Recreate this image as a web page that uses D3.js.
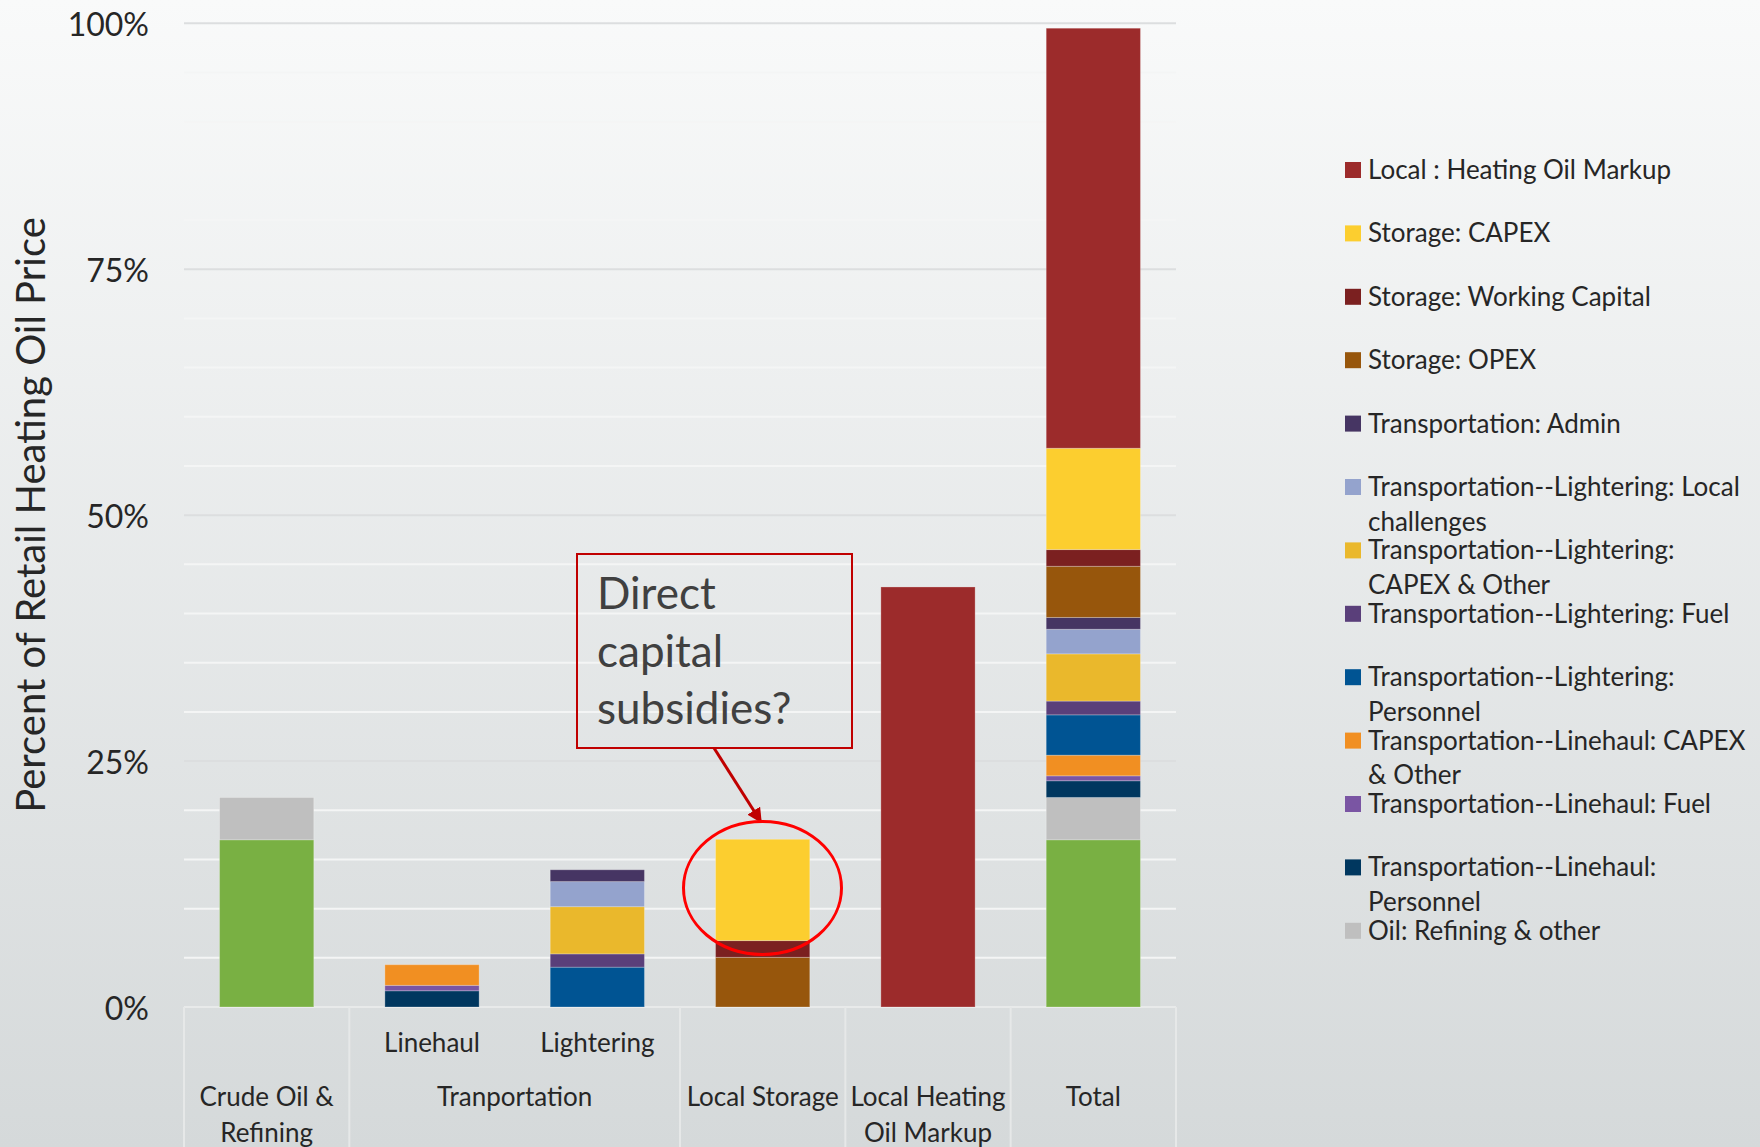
<!DOCTYPE html>
<meta charset="utf-8">
<style>

body {
  margin: 0;
  width: 1760px;
  height: 1147px;
  overflow: hidden;
  font-family: Lato, "Open Sans", sans-serif;
}

text {
  fill: #262626;
}

</style>
<body>
<script src="https://cdn.jsdelivr.net/npm/d3@7"></script>
<script>

var w = 1760,
    h = 1147;

// categories, bottom level of the axis
var categories = ["Crude Oil & Refining", "Linehaul", "Lightering", "Local Storage", "Local Heating Oil Markup", "Total"];
var subLabels = ["", "Linehaul", "Lightering", "", "", ""];
var groupLabels = ["Crude Oil & Refining", "Tranportation", "Local Storage", "Local Heating Oil Markup", "Total"];
var groupSpans = [1, 2, 1, 1, 1];

var yTicks = [0, 25, 50, 75, 100];

// series, stacked bottom to top; values in % of retail price, one per category
var seriesNames = [
  "Oil: Crude",
  "Oil: Refining & other",
  "Transportation--Linehaul: Personnel",
  "Transportation--Linehaul: Fuel",
  "Transportation--Linehaul: CAPEX & Other",
  "Transportation--Lightering: Personnel",
  "Transportation--Lightering: Fuel",
  "Transportation--Lightering: CAPEX & Other",
  "Transportation--Lightering: Local challenges",
  "Transportation: Admin",
  "Storage: OPEX",
  "Storage: Working Capital",
  "Storage: CAPEX",
  "Local : Heating Oil Markup"
];

var crude           = [17.0, 0, 0, 0, 0, 17.0];
var refining        = [4.3, 0, 0, 0, 0, 4.3];
var lhPersonnel     = [0, 1.65, 0, 0, 0, 1.7];
var lhFuel          = [0, 0.55, 0, 0, 0, 0.5];
var lhCapex         = [0, 2.1, 0, 0, 0, 2.1];
var ltPersonnel     = [0, 0, 4.05, 0, 0, 4.1];
var ltFuel          = [0, 0, 1.35, 0, 0, 1.4];
var ltCapex         = [0, 0, 4.8, 0, 0, 4.8];
var ltLocal         = [0, 0, 2.55, 0, 0, 2.5];
var admin           = [0, 0, 1.2, 0, 0, 1.2];
var storageOpex     = [0, 0, 0, 5.05, 0, 5.2];
var storageWC       = [0, 0, 0, 1.7, 0, 1.7];
var storageCapex    = [0, 0, 0, 10.3, 0, 10.3];
var markup          = [0, 0, 0, 0, 42.7, 42.7];

var seriesValues = [crude, refining, lhPersonnel, lhFuel, lhCapex, ltPersonnel, ltFuel, ltCapex, ltLocal, admin, storageOpex, storageWC, storageCapex, markup];

var colors = ["#79b043", "#bfbfbf", "#00375f", "#7a55a3", "#f18f22", "#005493", "#5a3f7a", "#eab82c", "#94a3cd", "#463563", "#97560c", "#7b2020", "#fcce2f", "#9c2b2b"];

// legend leaves out the crude series, listed top to bottom
var legendNames = seriesNames.slice(1).reverse();

var annotationLines = ["Direct", "capital", "subsidies?"];

var svg = d3.select("body").append("svg")
    .attr("width", w)
    .attr("height", h);

var defs = svg.append("defs");

var bg = defs.append("linearGradient")
    .attr("id", "bg")
    .attr("x1", 0).attr("y1", 0).attr("x2", 0).attr("y2", 1);
bg.append("stop").attr("offset", 0).attr("stop-color", "#f9fafa");
bg.append("stop").attr("offset", 1).attr("stop-color", "#d5d9da");

defs.append("marker")
    .attr("id", "arrow")
    .attr("viewBox", "0 0 10 10")
    .attr("refX", 9)
    .attr("refY", 5)
    .attr("markerWidth", 5)
    .attr("markerHeight", 5)
    .attr("orient", "auto")
  .append("path")
    .attr("d", "M0,0L10,5L0,10z")
    .attr("fill", "#c00000");

svg.append("rect")
    .attr("width", w)
    .attr("height", h)
    .attr("fill", "url(#bg)");

var x = d3.scaleBand()
    .domain(categories)
    .range([184, 1176])
    .paddingInner(0.43)
    .paddingOuter(0.215);

var y = d3.scaleLinear()
    .domain([0, 100])
    .range([1007, 23.3]);

// grid
svg.append("g").selectAll("line")
    .data(d3.range(5, 100, 5).filter(function(d) { return d % 25; }))
  .enter().append("line")
    .attr("x1", 184).attr("x2", 1176)
    .attr("y1", y).attr("y2", y)
    .attr("stroke", "#f4f5f5")
    .attr("stroke-width", 2);

svg.append("g").selectAll("line")
    .data(yTicks.slice(1))
  .enter().append("line")
    .attr("x1", 184).attr("x2", 1176)
    .attr("y1", y).attr("y2", y)
    .attr("stroke", "#dcdedf")
    .attr("stroke-width", 2);

// category axis box lines
var bounds = [0];
groupSpans.forEach(function(s, i) { bounds.push(bounds[i] + s); });
var step = x.step();

svg.append("line")
    .attr("x1", 184).attr("x2", 1176)
    .attr("y1", y(0)).attr("y2", y(0))
    .attr("stroke", "#e8eaea")
    .attr("stroke-width", 2);

svg.append("g").selectAll("line")
    .data(bounds)
  .enter().append("line")
    .attr("x1", function(d) { return 184 + d * step; })
    .attr("x2", function(d) { return 184 + d * step; })
    .attr("y1", y(0)).attr("y2", h)
    .attr("stroke", "#e6e8e8")
    .attr("stroke-width", 2);

// bars
var rows = categories.map(function(c, i) {
  var r = {cat: c};
  seriesNames.forEach(function(s, j) { r[s] = seriesValues[j][i]; });
  return r;
});

var stacked = d3.stack().keys(seriesNames)(rows);

svg.append("g").selectAll("g")
    .data(stacked)
  .enter().append("g")
    .attr("fill", function(d, i) { return colors[i]; })
  .selectAll("rect")
    .data(function(d) { return d.filter(function(p) { return p[1] - p[0] > 0; }); })
  .enter().append("rect")
    .attr("x", function(d) { return x(d.data.cat); })
    .attr("width", x.bandwidth())
    .attr("y", function(d) { return y(d[1]); })
    .attr("height", function(d) { return y(d[0]) - y(d[1]); })
    .attr("stroke", "rgba(255,255,255,0.25)")
    .attr("stroke-width", 1);

// y axis
var yAxis = svg.append("g")
    .attr("transform", "translate(184,0)")
    .call(d3.axisLeft(y).tickValues(yTicks).tickSize(0).tickPadding(35).tickFormat(function(d) { return d + "%"; }));
yAxis.select(".domain").remove();
yAxis.selectAll("text")
    .style("font-size", "32px")
    .style("font-family", "Lato, sans-serif")
    .attr("fill", "#262626")
    .attr("dy", "0.38em");

svg.append("text")
    .attr("transform", "translate(45,515) rotate(-90)")
    .attr("text-anchor", "middle")
    .style("font-size", "40px")
    .text("Percent of Retail Heating Oil Price");

// x axis labels
function wrapText(sel, maxW, lineH) {
  sel.each(function() {
    var t = d3.select(this),
        words = t.text().split(" "),
        xx = t.attr("x"),
        line = [],
        lines = [];
    t.text(null);
    var probe = t.append("tspan");
    words.forEach(function(wd) {
      line.push(wd);
      probe.text(line.join(" "));
      if (probe.node().getComputedTextLength() > maxW && line.length > 1) {
        line.pop();
        lines.push(line.join(" "));
        line = [wd];
      }
    });
    lines.push(line.join(" "));
    probe.remove();
    lines.forEach(function(l, i) {
      t.append("tspan").attr("x", xx).attr("dy", i ? lineH : 0).text(l);
    });
  });
}

svg.append("g").selectAll("text")
    .data(subLabels)
  .enter().append("text")
    .attr("x", function(d, i) { return x(categories[i]) + x.bandwidth() / 2; })
    .attr("y", 1052)
    .attr("text-anchor", "middle")
    .style("font-size", "26px")
    .text(function(d) { return d; });

svg.append("g").selectAll("text")
    .data(groupLabels)
  .enter().append("text")
    .attr("x", function(d, i) { return 184 + (bounds[i] + groupSpans[i] / 2) * step; })
    .attr("y", 1106)
    .attr("text-anchor", "middle")
    .style("font-size", "26px")
    .text(function(d) { return d; })
    .call(wrapText, 162, 36);

// legend
var legend = svg.append("g").selectAll("g")
    .data(legendNames)
  .enter().append("g")
    .attr("transform", function(d, i) { return "translate(1345," + (170 + i * 63.4) + ")"; });

legend.append("rect")
    .attr("y", -8)
    .attr("width", 16)
    .attr("height", 16)
    .attr("fill", function(d) { return colors[seriesNames.indexOf(d)]; });

legend.append("text")
    .attr("x", 23)
    .attr("y", 9)
    .style("font-size", "26px")
    .text(function(d) { return d; })
    .call(wrapText, 389, 34.5);

// annotation
svg.append("rect")
    .attr("x", 577).attr("y", 554)
    .attr("width", 275).attr("height", 194)
    .attr("fill", "none")
    .attr("stroke", "#c00000")
    .attr("stroke-width", 2);

svg.append("g").selectAll("text")
    .data(annotationLines)
  .enter().append("text")
    .attr("x", 597)
    .attr("y", function(d, i) { return 609 + i * 57.5; })
    .style("font-size", "44px")
    .style("fill", "#404040")
    .text(function(d) { return d; });

svg.append("line")
    .attr("x1", 714).attr("y1", 748)
    .attr("x2", 761).attr("y2", 822)
    .attr("stroke", "#c00000")
    .attr("stroke-width", 3)
    .attr("marker-end", "url(#arrow)");

svg.append("ellipse")
    .attr("cx", 762.5).attr("cy", 888)
    .attr("rx", 79).attr("ry", 66.5)
    .attr("fill", "none")
    .attr("stroke", "#ff0000")
    .attr("stroke-width", 3);

</script>
